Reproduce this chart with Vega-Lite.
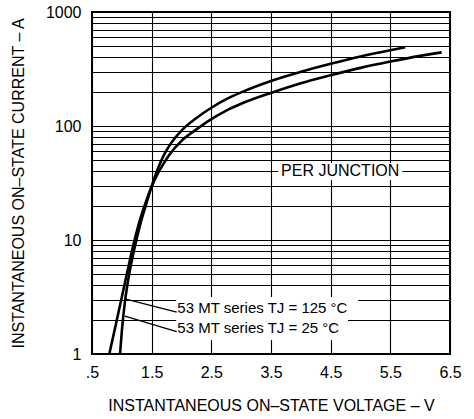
{
  "$schema": "https://vega.github.io/schema/vega-lite/v6.json",
  "width": 358,
  "height": 342,
  "autosize": {"type": "none"},
  "padding": {"left": 92, "top": 12, "right": 24, "bottom": 65},
  "background": "white",
  "view": {"stroke": "black", "strokeWidth": 2},
  "config": {
    "font": "Liberation Sans",
    "axis": {
      "grid": true, "gridColor": "black", "gridOpacity": 1, "gridWidth": 1.1,
      "domain": false, "ticks": false,
      "labelColor": "black", "labelFont": "Liberation Sans", "labelFontSize": 16,
      "labelOverlap": false, "labelFlush": false,
      "titleColor": "black", "titleFont": "Liberation Sans", "titleFontSize": 16, "titleFontWeight": "normal"
    }
  },
  "datasets": {
    "curves": [
      {"V": 0.97, "I": 1, "series": "TJ 25"},
      {"V": 1.0, "I": 1.585, "series": "TJ 25"},
      {"V": 1.05, "I": 2.818, "series": "TJ 25"},
      {"V": 1.1, "I": 4.266, "series": "TJ 25"},
      {"V": 1.2, "I": 7.943, "series": "TJ 25"},
      {"V": 1.3, "I": 13.18, "series": "TJ 25"},
      {"V": 1.4, "I": 19.95, "series": "TJ 25"},
      {"V": 1.5, "I": 29.51, "series": "TJ 25"},
      {"V": 1.6, "I": 41.69, "series": "TJ 25"},
      {"V": 1.7, "I": 54.95, "series": "TJ 25"},
      {"V": 1.8, "I": 67.61, "series": "TJ 25"},
      {"V": 2.0, "I": 91.2, "series": "TJ 25"},
      {"V": 2.25, "I": 117.5, "series": "TJ 25"},
      {"V": 2.5, "I": 144.5, "series": "TJ 25"},
      {"V": 2.75, "I": 171.8, "series": "TJ 25"},
      {"V": 3.0, "I": 197.2, "series": "TJ 25"},
      {"V": 3.5, "I": 248.3, "series": "TJ 25"},
      {"V": 4.0, "I": 298.5, "series": "TJ 25"},
      {"V": 4.5, "I": 350.8, "series": "TJ 25"},
      {"V": 5.0, "I": 407.4, "series": "TJ 25"},
      {"V": 5.5, "I": 462.4, "series": "TJ 25"},
      {"V": 5.75, "I": 489.8, "series": "TJ 25"},
      {"V": 0.79, "I": 1, "series": "TJ 125"},
      {"V": 0.9, "I": 1.82, "series": "TJ 125"},
      {"V": 1.0, "I": 3.162, "series": "TJ 125"},
      {"V": 1.1, "I": 5.495, "series": "TJ 125"},
      {"V": 1.2, "I": 9.333, "series": "TJ 125"},
      {"V": 1.3, "I": 14.79, "series": "TJ 125"},
      {"V": 1.4, "I": 21.38, "series": "TJ 125"},
      {"V": 1.5, "I": 29.51, "series": "TJ 125"},
      {"V": 1.6, "I": 38.02, "series": "TJ 125"},
      {"V": 1.7, "I": 46.77, "series": "TJ 125"},
      {"V": 1.8, "I": 56.23, "series": "TJ 125"},
      {"V": 2.0, "I": 74.13, "series": "TJ 125"},
      {"V": 2.25, "I": 93.33, "series": "TJ 125"},
      {"V": 2.5, "I": 114.8, "series": "TJ 125"},
      {"V": 2.75, "I": 136.5, "series": "TJ 125"},
      {"V": 3.0, "I": 156.7, "series": "TJ 125"},
      {"V": 3.5, "I": 195.0, "series": "TJ 125"},
      {"V": 4.0, "I": 237.1, "series": "TJ 125"},
      {"V": 4.5, "I": 278.6, "series": "TJ 125"},
      {"V": 5.0, "I": 323.6, "series": "TJ 125"},
      {"V": 5.5, "I": 367.3, "series": "TJ 125"},
      {"V": 6.0, "I": 412.1, "series": "TJ 125"},
      {"V": 6.36, "I": 442.6, "series": "TJ 125"}
    ],
    "boxes": [
      {"V1": 3.62, "V2": 5.7, "I1": 33.6, "I2": 47.4},
      {"V1": 1.91, "V2": 4.96, "I1": 2.07, "I2": 3.16},
      {"V1": 1.91, "V2": 4.79, "I1": 1.33, "I2": 2.07}
    ],
    "junction": [
      {"V": 4.66, "I": 40, "text": "PER JUNCTION"}
    ],
    "labels": [
      {"V": 1.93, "I": 2.53, "text": "53 MT series TJ = 125 °C"},
      {"V": 1.93, "I": 1.7, "text": "53 MT series TJ = 25 °C"}
    ],
    "leaders": [
      {"V1": 1.05, "I1": 3.04, "V2": 1.92, "I2": 2.33},
      {"V1": 1.05, "I1": 2.15, "V2": 1.92, "I2": 1.57}
    ]
  },
  "layer": [
    {
      "data": {"name": "curves"},
      "mark": {"type": "line", "color": "black", "strokeWidth": 2.6, "interpolate": "monotone", "clip": true},
      "encoding": {
        "x": {
          "field": "V", "type": "quantitative",
          "scale": {"domain": [0.5, 6.5], "nice": false, "zero": false},
          "axis": {
            "values": [0.5, 1, 1.5, 2, 2.5, 3, 3.5, 4, 4.5, 5, 5.5, 6, 6.5],
            "labelExpr": "datum.value % 1 == 0.5 ? (datum.value < 1 ? '.5' : format(datum.value, '.1f')) : ''",
            "labelPadding": 10,
            "title": "INSTANTANEOUS ON–STATE VOLTAGE – V",
            "titleX": 179, "titleY": 51, "titleBaseline": "middle", "titleAlign": "center"
          }
        },
        "y": {
          "field": "I", "type": "quantitative",
          "scale": {"type": "log", "domain": [1, 1000], "nice": false},
          "axis": {
            "values": [1, 2, 3, 4, 5, 6, 7, 8, 9, 10, 20, 30, 40, 50, 60, 70, 80, 90, 100, 200, 300, 400, 500, 600, 700, 800, 900, 1000],
            "labelExpr": "(datum.value == 1 || datum.value == 10 || datum.value == 100 || datum.value == 1000) ? format(datum.value, 'd') : ''",
            "labelPadding": 11,
            "title": "INSTANTANEOUS ON–STATE CURRENT – A",
            "titleX": -74, "titleY": 171, "titleAngle": 270, "titleBaseline": "middle", "titleAlign": "center"
          }
        },
        "detail": {"field": "series"}
      }
    },
    {
      "data": {"name": "boxes"},
      "mark": {"type": "rect", "color": "white", "opacity": 1},
      "encoding": {
        "x": {"field": "V1", "type": "quantitative"},
        "x2": {"field": "V2"},
        "y": {"field": "I1", "type": "quantitative"},
        "y2": {"field": "I2"}
      }
    },
    {
      "data": {"name": "leaders"},
      "mark": {"type": "rule", "color": "black", "strokeWidth": 1.3},
      "encoding": {
        "x": {"field": "V1", "type": "quantitative"},
        "x2": {"field": "V2"},
        "y": {"field": "I1", "type": "quantitative"},
        "y2": {"field": "I2"}
      }
    },
    {
      "data": {"name": "junction"},
      "mark": {"type": "text", "color": "black", "font": "Liberation Sans", "fontSize": 16, "align": "center", "baseline": "middle"},
      "encoding": {
        "x": {"field": "V", "type": "quantitative"},
        "y": {"field": "I", "type": "quantitative"},
        "text": {"field": "text"}
      }
    },
    {
      "data": {"name": "labels"},
      "mark": {"type": "text", "color": "black", "font": "Liberation Sans", "fontSize": 15, "align": "left", "baseline": "middle"},
      "encoding": {
        "x": {"field": "V", "type": "quantitative"},
        "y": {"field": "I", "type": "quantitative"},
        "text": {"field": "text"}
      }
    }
  ]
}
